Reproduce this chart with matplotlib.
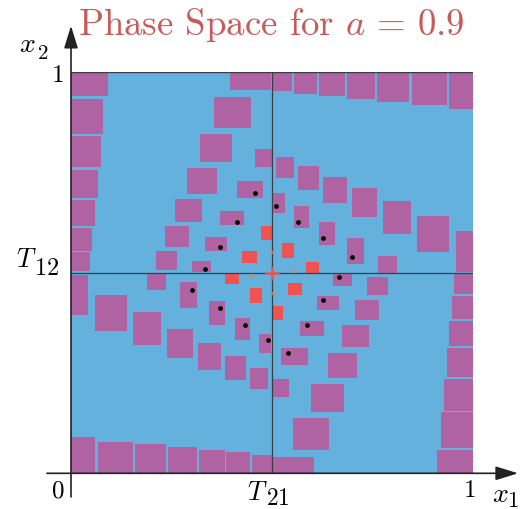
import matplotlib
matplotlib.use("Agg")
import matplotlib.pyplot as plt
from matplotlib.patches import Rectangle

plt.rcParams["mathtext.fontset"] = "cm"
plt.rcParams["font.family"] = ["cmr10", "DejaVu Serif"]
plt.rcParams["axes.formatter.use_mathtext"] = True

# Cells of the phase-space partition, each as [x0, x1, y0, y1]
outer_left = [
    [0.0, 0.091, 0.942, 1.0], [0.0, 0.080, 0.846, 0.933], [0.0, 0.074, 0.763, 0.840],
    [0.0, 0.066, 0.686, 0.756], [0.0, 0.059, 0.617, 0.682], [0.0, 0.052, 0.555, 0.612],
    [0.0, 0.047, 0.504, 0.551], [0.0, 0.043, 0.395, 0.495],
]
outer_bottom = [
    [0.0, 0.059, 0.0, 0.090], [0.066, 0.154, 0.0, 0.079], [0.159, 0.236, 0.0, 0.072],
    [0.242, 0.314, 0.0, 0.065], [0.319, 0.383, 0.0, 0.058], [0.386, 0.446, 0.0, 0.052],
    [0.450, 0.501, 0.0, 0.046], [0.501, 0.605, 0.0, 0.041],
]
outer_right = [
    [0.910, 1.0, 0.0, 0.058], [0.921, 1.0, 0.063, 0.152], [0.928, 1.0, 0.156, 0.235],
    [0.935, 1.0, 0.241, 0.312], [0.942, 1.0, 0.317, 0.380], [0.948, 1.0, 0.385, 0.443],
    [0.953, 1.0, 0.447, 0.497], [0.958, 1.0, 0.501, 0.603],
]
outer_top = [
    [0.942, 1.0, 0.908, 1.0], [0.848, 0.935, 0.919, 1.0], [0.763, 0.842, 0.927, 1.0],
    [0.688, 0.758, 0.933, 1.0], [0.618, 0.682, 0.942, 1.0], [0.556, 0.613, 0.947, 1.0],
    [0.502, 0.551, 0.953, 1.0], [0.396, 0.497, 0.957, 1.0],
]
inner_cells = [
    [0.357, 0.447, 0.861, 0.939], [0.321, 0.402, 0.776, 0.845], [0.290, 0.363, 0.697, 0.761],
    [0.260, 0.326, 0.627, 0.684], [0.234, 0.294, 0.565, 0.616], [0.211, 0.265, 0.508, 0.554],
    [0.190, 0.236, 0.458, 0.497], [0.060, 0.139, 0.356, 0.445], [0.154, 0.224, 0.320, 0.402],
    [0.238, 0.303, 0.288, 0.360], [0.315, 0.373, 0.258, 0.324], [0.383, 0.435, 0.233, 0.292],
    [0.446, 0.491, 0.209, 0.263], [0.501, 0.543, 0.190, 0.235], [0.553, 0.643, 0.058, 0.137],
    [0.598, 0.680, 0.152, 0.223], [0.639, 0.712, 0.237, 0.301], [0.675, 0.741, 0.314, 0.371],
    [0.707, 0.767, 0.382, 0.433], [0.736, 0.790, 0.445, 0.489], [0.764, 0.811, 0.500, 0.541],
    [0.862, 0.941, 0.553, 0.642], [0.777, 0.846, 0.597, 0.678], [0.699, 0.763, 0.638, 0.711],
    [0.628, 0.686, 0.674, 0.740], [0.566, 0.618, 0.707, 0.766], [0.510, 0.555, 0.736, 0.788],
    [0.458, 0.500, 0.763, 0.809],
]
dotted_cells = [
    [0.413, 0.479, 0.686, 0.728], [0.502, 0.533, 0.649, 0.698], [0.556, 0.593, 0.611, 0.666],
    [0.618, 0.657, 0.569, 0.627], [0.688, 0.729, 0.522, 0.587], [0.653, 0.700, 0.468, 0.500],
    [0.613, 0.667, 0.408, 0.443], [0.570, 0.629, 0.343, 0.381], [0.523, 0.589, 0.271, 0.313],
    [0.468, 0.498, 0.300, 0.347], [0.408, 0.446, 0.333, 0.387], [0.344, 0.383, 0.371, 0.429],
    [0.271, 0.314, 0.412, 0.476], [0.301, 0.349, 0.501, 0.530], [0.334, 0.388, 0.554, 0.590],
    [0.371, 0.431, 0.618, 0.655],
]
dot_x = [0.459, 0.510, 0.566, 0.628, 0.700, 0.666, 0.628, 0.588, 0.541,
         0.491, 0.434, 0.372, 0.301, 0.334, 0.372, 0.413]
dot_y = [0.698, 0.666, 0.627, 0.587, 0.540, 0.490, 0.433, 0.371, 0.299,
         0.333, 0.371, 0.412, 0.458, 0.509, 0.565, 0.627]
red_cells = [
    [0.473, 0.501, 0.582, 0.616], [0.526, 0.555, 0.537, 0.574], [0.584, 0.617, 0.500, 0.526],
    [0.539, 0.576, 0.445, 0.474], [0.502, 0.527, 0.382, 0.416], [0.446, 0.475, 0.424, 0.461],
    [0.383, 0.418, 0.472, 0.500], [0.425, 0.462, 0.524, 0.554],
]
fixed_x, fixed_y = 0.5, 0.5
orbit_x = [0.498, 0.448, 0.552, 0.504]
orbit_y = [0.551, 0.495, 0.505, 0.449]

T21, T12 = 0.5, 0.5

BLUE = "#63B1DC"
PINK = "#B063A2"
RED = "#F05252"
LINE = "#3A3F45"

fig = plt.figure(figsize=(5.24, 5.10), dpi=100)
ax = fig.add_axes([71 / 524, 1 - 474.3 / 510, 401.7 / 524, 401 / 510])
ax.set_xlim(0, 1)
ax.set_ylim(0, 1)
ax.axis("off")

ax.add_patch(Rectangle((0, 0), 1, 1, facecolor=BLUE, edgecolor="none", zorder=1))


def draw_cells(cells, color):
    for x0, x1, y0, y1 in cells:
        ax.add_patch(Rectangle((x0, y0), x1 - x0, y1 - y0, facecolor=color,
                               edgecolor="none", zorder=2))


for group in (outer_left, outer_bottom, outer_right, outer_top, inner_cells, dotted_cells):
    draw_cells(group, PINK)
draw_cells(red_cells, RED)

ax.plot(dot_x, dot_y, "o", color="black", markersize=2.4, zorder=4)
ax.plot(orbit_x, orbit_y, "o", color="#E08A50", markersize=1.6, alpha=0.7, zorder=4)
ax.plot([fixed_x], [fixed_y], "+", color=RED, markersize=10, mew=1.8, zorder=5)

# threshold lines and top border
ax.plot([T21, T21], [0, 1], color=LINE, lw=0.9, zorder=3)
ax.plot([0, 1], [T12, T12], color=LINE, lw=0.9, zorder=3)
ax.plot([0, 1], [1, 1], color=LINE, lw=1.0, zorder=3)

# axes with arrow heads
arrow = dict(arrowstyle="-|>,head_length=0.55,head_width=0.17", mutation_scale=25,
             color="#222222", lw=1.2, shrinkA=0, shrinkB=0)
ax.annotate("", xy=(1.113, 0), xytext=(-0.06, 0), arrowprops=arrow,
            annotation_clip=False, zorder=6)
ax.annotate("", xy=(0, 1.116), xytext=(0, -0.059), arrowprops=arrow,
            annotation_clip=False, zorder=6)

fs = 18


def label(x, y, s, size=fs, ha="left"):
    ax.text(x, y, s, ha=ha, va="baseline", fontsize=size, clip_on=False)


# tick labels
label(-0.0165, -0.058, "0", ha="right")
label(0.9945, -0.057, "1", ha="center")
label(-0.0160, 0.978, "1", ha="right")

# symbol plus subscript, subscript set nearly full size
label(0.439, -0.063, r"$T$", size=19)
label(0.486, -0.077, r"$\mathrm{21}$", size=17)
label(-0.137, 0.5177, r"$T$", size=19)
label(-0.092, 0.497, r"$\mathrm{12}$", size=17.5)
label(1.047, -0.0683, r"$x$", size=20)
label(1.086, -0.0808, r"$\mathrm{1}$", size=16.5)
label(-0.129, 1.0539, r"$x$", size=20)
label(-0.084, 1.0349, r"$\mathrm{2}$", size=15)

ax.text(0.4978, 1.0955, r"Phase Space for $a\,=\,0.9$", ha="center", va="baseline",
        fontsize=26.5, color="#C85A5A", clip_on=False)

fig.savefig("out.png", dpi=100)
